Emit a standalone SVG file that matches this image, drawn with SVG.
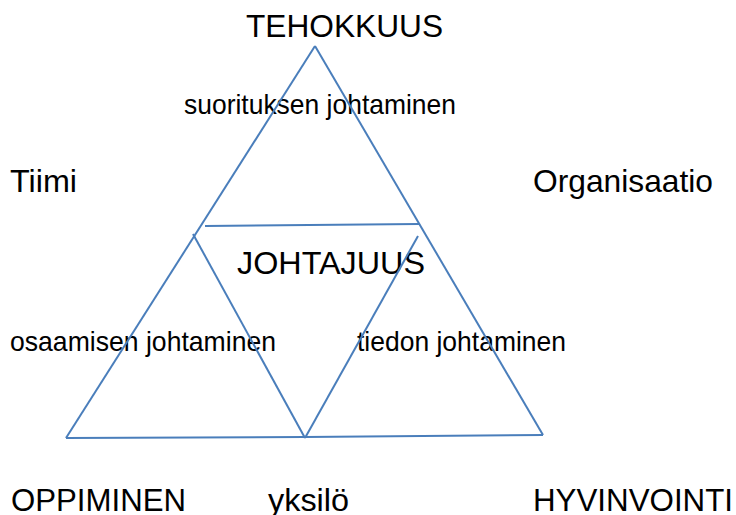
<svg xmlns="http://www.w3.org/2000/svg" width="736" height="515" viewBox="0 0 736 515">
<style>
text{font-family:"Liberation Sans",Arial,sans-serif;fill:#000}
.big{font-size:32px}
.mid{font-size:28px}
.ln{stroke:#4a7ebb;stroke-width:2;fill:none;stroke-linecap:butt}
</style>
<rect width="736" height="515" fill="#fff"/>
<g id="tehokkuus"><text class="big" x="246" y="37" textLength="197" lengthAdjust="spacingAndGlyphs">TEHOKKUUS</text></g>
<g id="suorituksen"><text class="mid" x="184" y="114" textLength="272" lengthAdjust="spacingAndGlyphs">suorituksen johtaminen</text></g>
<g id="tiimi"><text class="big" x="10" y="192" textLength="67" lengthAdjust="spacingAndGlyphs">Tiimi</text></g>
<g id="organisaatio"><text class="big" x="533" y="192" textLength="180" lengthAdjust="spacingAndGlyphs">Organisaatio</text></g>
<g id="johtajuus"><text class="big" x="237" y="274" textLength="188" lengthAdjust="spacingAndGlyphs">JOHTAJUUS</text></g>
<g id="osaamisen"><text class="mid" x="10" y="351" textLength="266" lengthAdjust="spacingAndGlyphs">osaamisen johtaminen</text></g>
<g id="tiedon"><text class="mid" x="357" y="351" textLength="209" lengthAdjust="spacingAndGlyphs">tiedon johtaminen</text></g>
<g id="oppiminen"><text class="big" x="11" y="511" textLength="175" lengthAdjust="spacingAndGlyphs">OPPIMINEN</text></g>
<g id="yksilo"><text class="big" x="268" y="511" textLength="81" lengthAdjust="spacingAndGlyphs">yksilö</text></g>
<g id="hyvinvointi"><text class="big" x="533" y="511" textLength="200" lengthAdjust="spacingAndGlyphs">HYVINVOINTI</text></g>
<g id="connectors" class="ln">
<line x1="315" y1="46" x2="66" y2="438"/>
<line x1="315" y1="46" x2="543" y2="435"/>
<line x1="205" y1="226" x2="419" y2="224"/>
<line x1="193" y1="234" x2="305" y2="438"/>
<line x1="418" y1="236" x2="305" y2="438"/>
<line x1="66" y1="438" x2="305" y2="437"/>
<line x1="305" y1="437" x2="543" y2="435"/>
</g>
</svg>
